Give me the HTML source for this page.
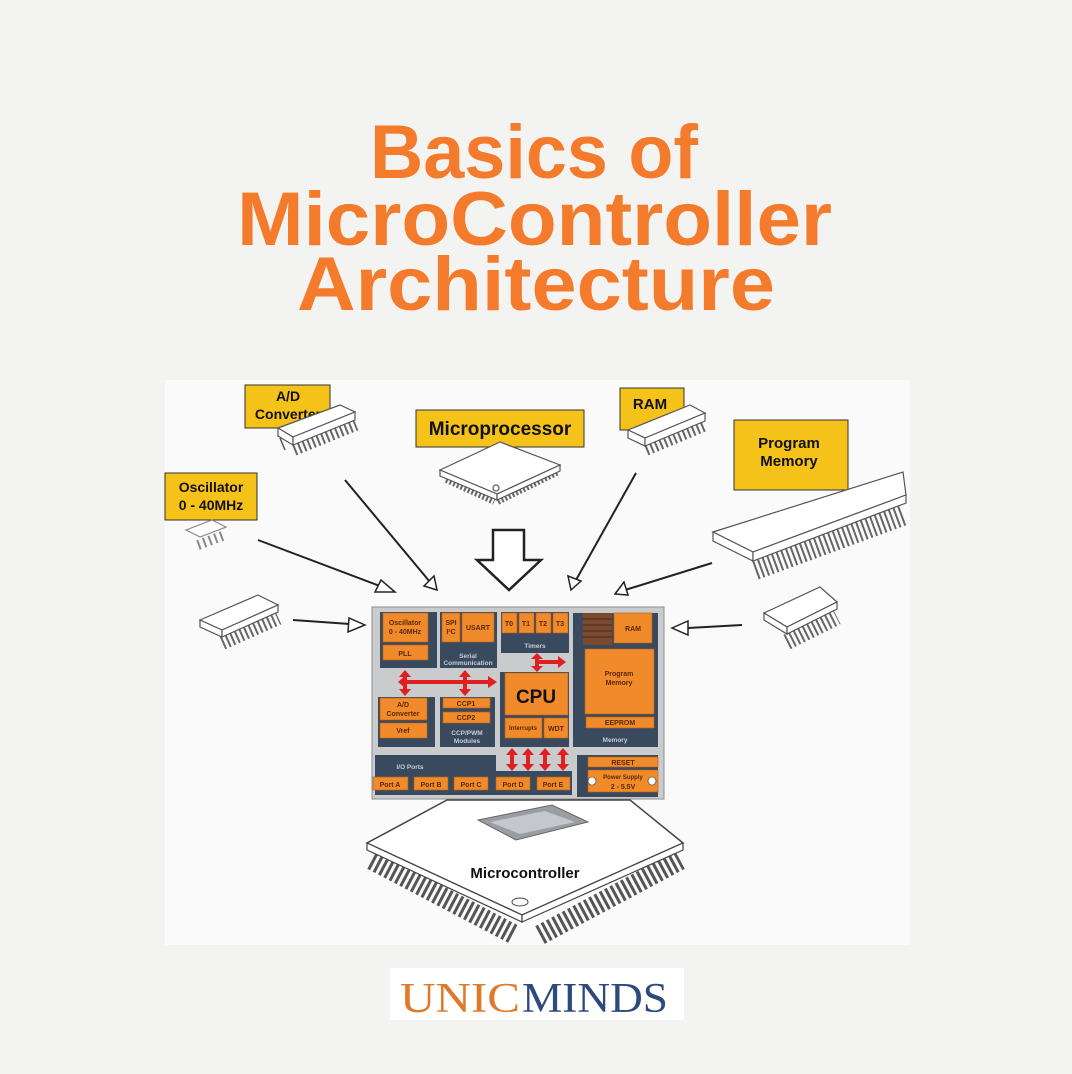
<!DOCTYPE html>
<html><head><meta charset="utf-8"><style>
html,body{margin:0;padding:0;background:#f3f3f1;}
svg{display:block;}
</style></head><body>
<svg width="1072" height="1074" viewBox="0 0 1072 1074" xmlns="http://www.w3.org/2000/svg" font-family="Liberation Sans, sans-serif">
<rect width="1072" height="1074" fill="#f3f3f1"/>
<rect x="165" y="380" width="745" height="565" fill="#fafafa"/>
<!-- Title -->
<g fill="#f47a2c" font-weight="bold" font-family="Liberation Sans, sans-serif" font-size="76">
<text x="370" y="178" textLength="328" lengthAdjust="spacingAndGlyphs">Basics of</text>
<text x="237" y="245" textLength="595" lengthAdjust="spacingAndGlyphs">MicroController</text>
<text x="297" y="310" textLength="478" lengthAdjust="spacingAndGlyphs">Architecture</text>
</g>

<!-- Yellow labels -->
<g stroke="#333" stroke-width="1" fill="#f5c21a">
<rect x="245" y="385" width="85" height="43"/>
<rect x="416" y="410" width="168" height="37"/>
<rect x="620" y="388" width="64" height="42"/>
<rect x="734" y="420" width="114" height="70"/>
<rect x="165" y="473" width="92" height="47"/>
</g>
<g font-weight="bold" fill="#111" text-anchor="middle">
<text x="288" y="401" font-size="14">A/D</text>
<text x="288" y="419" font-size="14">Converter</text>
<text x="500" y="435" font-size="19">Microprocessor</text>
<text x="650" y="409" font-size="15">RAM</text>
<text x="789" y="448" font-size="15">Program</text>
<text x="789" y="466" font-size="15">Memory</text>
<text x="211" y="492" font-size="14">Oscillator</text>
<text x="211" y="510" font-size="14">0 - 40MHz</text>
</g>

<!-- DIP chips -->
<g fill="#fff" stroke="#555" stroke-width="1.2">
<!-- A/D chip -->
<line x1="293" y1="447" x2="355" y2="422" stroke="#666" stroke-width="18" stroke-dasharray="2 3"/>
<line x1="280" y1="438" x2="285" y2="450" stroke-width="1.5"/>
<polygon points="278,428 340,405 355,412 293,437"/>
<polygon points="278,428 293,437 293,445 278,436"/>
<polygon points="293,437 355,412 355,420 293,445"/>
<!-- RAM chip -->
<line x1="645" y1="447" x2="705" y2="422" stroke="#666" stroke-width="18" stroke-dasharray="2 3"/>
<polygon points="628,430 690,405 705,413 645,438"/>
<polygon points="628,430 645,438 645,446 628,438"/>
<polygon points="645,438 705,413 705,421 645,446"/>
<!-- Program memory long DIP -->
<line x1="755" y1="569" x2="905" y2="514" stroke="#666" stroke-width="22" stroke-dasharray="2 3"/>
<polygon points="713,532 903,472 906,495 753,552"/>
<polygon points="713,532 753,552 753,561 713,541"/>
<polygon points="753,552 906,495 906,503 753,561"/>
<!-- Right small chip -->
<line x1="787" y1="642" x2="837" y2="617" stroke="#666" stroke-width="16" stroke-dasharray="2 3"/>
<polygon points="764,613 820,587 837,602 787,627"/>
<polygon points="764,613 787,627 787,634 764,620"/>
<polygon points="787,627 837,602 837,609 787,634"/>
<!-- Left small chip -->
<line x1="222" y1="642" x2="278" y2="617" stroke="#666" stroke-width="16" stroke-dasharray="2 3"/>
<polygon points="200,620 258,595 278,605 222,630"/>
<polygon points="200,620 222,630 222,637 200,627"/>
<polygon points="222,630 278,605 278,612 222,637"/>
<!-- Oscillator tiny chip -->
<line x1="198" y1="545" x2="225" y2="535" stroke="#888" stroke-width="10" stroke-dasharray="2 4"/>
<polygon points="186,530 212,520 226,527 200,537" stroke="#888"/>
<!-- Microprocessor QFP -->
<line x1="447" y1="478" x2="495" y2="500" stroke="#666" stroke-width="10" stroke-dasharray="2 2"/>
<line x1="497" y1="500" x2="558" y2="470" stroke="#666" stroke-width="10" stroke-dasharray="2 2"/>
<polygon points="440,470 500,442 560,465 497,494"/>
<polygon points="440,470 497,494 497,500 440,476"/>
<polygon points="497,494 560,465 560,471 497,500"/>
<circle cx="496" cy="488" r="3"/>
</g>

<!-- Connector arrows -->
<g stroke="#222" stroke-width="2" fill="#fff">
<line x1="258" y1="540" x2="385" y2="588"/>
<polygon points="395,592 375,592 381,580" stroke-width="1.5"/>
<line x1="345" y1="480" x2="430" y2="582"/>
<polygon points="437,590 424,586 434,576" stroke-width="1.5"/>
<line x1="636" y1="473" x2="576" y2="580"/>
<polygon points="571,590 568,576 581,581" stroke-width="1.5"/>
<line x1="712" y1="563" x2="625" y2="590"/>
<polygon points="615,594 624,582 628,595" stroke-width="1.5"/>
<line x1="293" y1="620" x2="350" y2="624"/>
<polygon points="365,625 349,618 348,632" stroke-width="1.5"/>
<line x1="742" y1="625" x2="688" y2="628"/>
<polygon points="672,628 688,621 688,635" stroke-width="1.5"/>
<polygon points="493,530 524,530 524,560 541,560 509,590 477,560 493,560" stroke-width="2.5"/>
</g>

<!-- Central block diagram -->
<rect x="372" y="607" width="292" height="192" fill="#c9cbcd" stroke="#8a8c8e"/>
<g fill="#3a4a5e">
<rect x="380" y="612" width="57" height="56"/>
<rect x="440" y="612" width="57" height="56"/>
<rect x="501" y="612" width="68" height="41"/>
<rect x="573" y="613" width="85" height="134"/>
<rect x="378" y="697" width="57" height="50"/>
<rect x="440" y="697" width="55" height="50"/>
<rect x="500" y="672" width="69" height="75"/>
<polygon points="375,755 496,755 496,771 572,771 572,795 375,795"/>
<rect x="577" y="755" width="81" height="42"/>
</g>
<g fill="#f08a2a" stroke="#b85f14" stroke-width="0.6">
<rect x="383" y="613" width="45" height="29"/>
<rect x="383" y="645" width="45" height="15"/>
<rect x="442" y="613" width="18" height="29"/>
<rect x="462" y="613" width="32" height="29"/>
<rect x="502" y="613" width="15" height="20"/>
<rect x="519" y="613" width="15" height="20"/>
<rect x="536" y="613" width="15" height="20"/>
<rect x="553" y="613" width="15" height="20"/>
<rect x="614" y="613" width="38" height="30"/>
<rect x="585" y="649" width="69" height="65"/>
<rect x="586" y="717" width="68" height="11"/>
<rect x="380" y="698" width="47" height="22"/>
<rect x="380" y="723" width="47" height="15"/>
<rect x="443" y="698" width="47" height="10"/>
<rect x="443" y="712" width="47" height="11"/>
<rect x="505" y="673" width="63" height="42"/>
<rect x="505" y="718" width="37" height="20"/>
<rect x="544" y="718" width="24" height="20"/>
<rect x="373" y="777" width="35" height="13"/>
<rect x="414" y="777" width="34" height="13"/>
<rect x="454" y="777" width="34" height="13"/>
<rect x="496" y="777" width="34" height="13"/>
<rect x="537" y="777" width="33" height="13"/>
<rect x="588" y="757" width="70" height="10"/>
<rect x="588" y="770" width="70" height="22"/>
</g>
<rect x="583" y="613" width="29" height="32" fill="#7a4a30"/>
<g stroke="#4a2a18" stroke-width="1">
<line x1="583" y1="619" x2="612" y2="619"/><line x1="583" y1="625" x2="612" y2="625"/>
<line x1="583" y1="631" x2="612" y2="631"/><line x1="583" y1="637" x2="612" y2="637"/>
</g>
<g font-weight="bold" fill="#5a2a05" text-anchor="middle" font-size="7">
<text x="405" y="625">Oscillator</text><text x="405" y="634">0 - 40MHz</text>
<text x="405" y="656">PLL</text>
<text x="451" y="625">SPI</text><text x="451" y="634">I²C</text>
<text x="478" y="630">USART</text>
<text x="509" y="626">T0</text><text x="526" y="626">T1</text><text x="543" y="626">T2</text><text x="560" y="626">T3</text>
<text x="633" y="631">RAM</text>
<text x="619" y="676">Program</text><text x="619" y="685">Memory</text>
<text x="620" y="725">EEPROM</text>
<text x="403" y="707">A/D</text><text x="403" y="716">Converter</text>
<text x="403" y="733">Vref</text>
<text x="466" y="706">CCP1</text><text x="466" y="720">CCP2</text>
<text x="523" y="730" font-size="6">Interrupts</text>
<text x="556" y="731">WDT</text>
<text x="390" y="787">Port A</text><text x="431" y="787">Port B</text><text x="471" y="787">Port C</text>
<text x="513" y="787">Port D</text><text x="553" y="787">Port E</text>
<text x="623" y="765">RESET</text>
<text x="623" y="779" font-size="6">Power Supply</text><text x="623" y="789">2 - 5.5V</text>
<text x="536" y="703" font-size="19" fill="#111">CPU</text>
</g>
<g font-weight="bold" fill="#c8ccd2" text-anchor="middle" font-size="6.5">
<text x="468" y="658">Serial</text><text x="468" y="665">Communication</text>
<text x="535" y="648">Timers</text>
<text x="615" y="742">Memory</text>
<text x="467" y="735">CCP/PWM</text><text x="467" y="743">Modules</text>
<text x="410" y="769">I/O Ports</text>
</g>
<circle cx="592" cy="781" r="4" fill="#fff" stroke="#333" stroke-width="0.6"/>
<circle cx="652" cy="781" r="4" fill="#fff" stroke="#333" stroke-width="0.6"/>
<!-- red arrows -->
<g fill="#e02020" stroke="#e02020">
<line x1="402" y1="682" x2="490" y2="682" stroke-width="4"/>
<polygon points="497,682 488,676 488,688" stroke="none"/>
<line x1="405" y1="675" x2="405" y2="692" stroke-width="4"/>
<polygon points="405,670 399,677 411,677" stroke="none"/><polygon points="405,696 399,689 411,689" stroke="none"/>
<polygon points="398,682 405,676 405,688" stroke="none"/>
<line x1="465" y1="675" x2="465" y2="692" stroke-width="4"/>
<polygon points="465,670 459,677 471,677" stroke="none"/><polygon points="465,696 459,689 471,689" stroke="none"/>
<line x1="537" y1="656" x2="537" y2="670" stroke-width="4"/>
<polygon points="537,653 531,659 543,659" stroke="none"/><polygon points="537,672 531,666 543,666" stroke="none"/>
<line x1="537" y1="662" x2="560" y2="662" stroke-width="4"/>
<polygon points="566,662 558,656 558,668" stroke="none"/>
<g stroke-width="4">
<line x1="512" y1="752" x2="512" y2="766"/><line x1="528" y1="752" x2="528" y2="766"/>
<line x1="545" y1="752" x2="545" y2="766"/><line x1="563" y1="752" x2="563" y2="766"/>
</g>
<g stroke="none">
<polygon points="512,748 506,755 518,755"/><polygon points="512,771 506,764 518,764"/>
<polygon points="528,748 522,755 534,755"/><polygon points="528,771 522,764 534,764"/>
<polygon points="545,748 539,755 551,755"/><polygon points="545,771 539,764 551,764"/>
<polygon points="563,748 557,755 569,755"/><polygon points="563,771 557,764 569,764"/>
</g>
</g>

<!-- Microcontroller QFP -->
<g stroke="#444" fill="#fff">
<line x1="372" y1="860" x2="515" y2="935" stroke="#555" stroke-width="20" stroke-dasharray="3 3"/>
<line x1="540" y1="935" x2="680" y2="860" stroke="#555" stroke-width="20" stroke-dasharray="3 3"/>
<polygon points="447,800 630,800 683,843 522,915 367,843" stroke-width="1.5"/>
<polygon points="367,843 522,915 522,922 367,850" stroke-width="1.2"/>
<polygon points="522,915 683,843 683,850 522,922" stroke-width="1.2"/>
<ellipse cx="520" cy="902" rx="8" ry="4"/>
</g>
<polygon points="478,820 552,805 588,822 516,840" fill="#9a9ea4" stroke="#666"/>
<polygon points="490,822 545,811 575,822 520,834" fill="#c4c8cc"/>
<text x="525" y="878" text-anchor="middle" font-weight="bold" font-size="15" fill="#111">Microcontroller</text>

<!-- Logo -->
<rect x="390" y="968" width="294" height="52" fill="#fff"/>
<text x="400" y="1012" font-family="Liberation Serif, serif" font-size="42" fill="#e07a2a" textLength="120" lengthAdjust="spacingAndGlyphs">UNIC</text>
<text x="522" y="1012" font-family="Liberation Serif, serif" font-size="42" fill="#2c4a7e" textLength="146" lengthAdjust="spacingAndGlyphs">MINDS</text>
</svg>
</body></html>
